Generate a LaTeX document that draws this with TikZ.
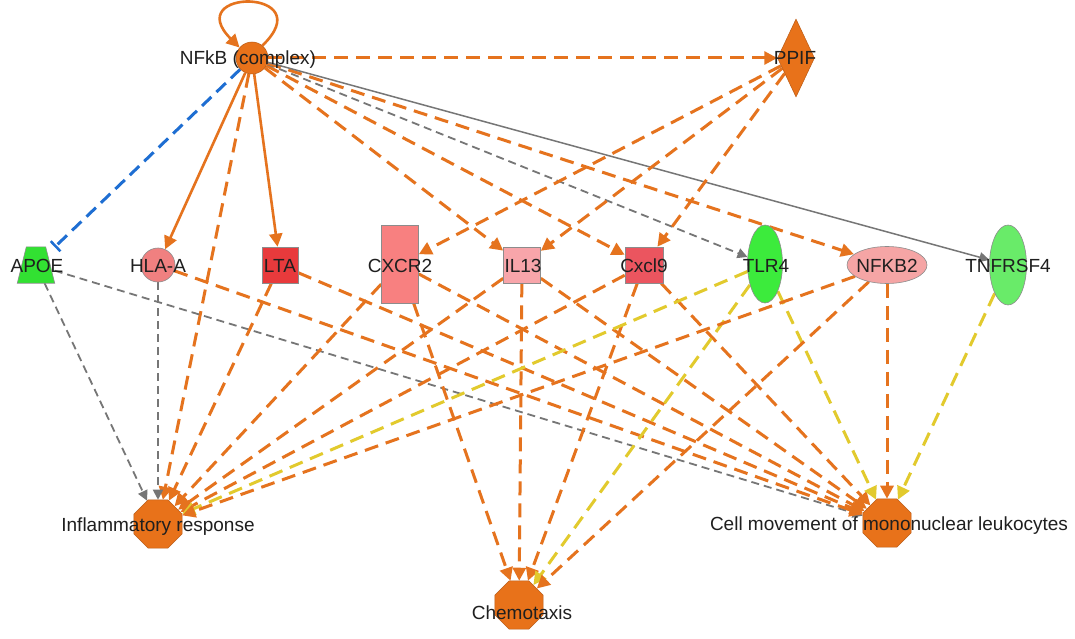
\documentclass[tikz,border=0pt]{standalone}
\usepackage{fontspec}
\setmainfont{Liberation Sans}
\usetikzlibrary{arrows.meta,shapes.geometric}
\pgfdeclarelayer{bg}
\pgfsetlayers{bg,main}
\definecolor{eor}{RGB}{229,115,30}
\definecolor{egray}{RGB}{118,118,118}
\definecolor{eyel}{RGB}{226,202,45}
\definecolor{eblue}{RGB}{30,110,210}
\definecolor{nor}{RGB}{232,114,26}
\definecolor{cApoe}{RGB}{50,225,50}
\definecolor{cHla}{RGB}{240,128,128}
\definecolor{cLta}{RGB}{232,58,60}
\definecolor{cCxcr}{RGB}{248,128,128}
\definecolor{cIl}{RGB}{248,165,170}
\definecolor{cCx}{RGB}{235,85,95}
\definecolor{cTlr}{RGB}{60,235,60}
\definecolor{cNfkb}{RGB}{245,165,165}
\definecolor{cTnf}{RGB}{105,235,105}
\tikzset{
  mol/.style={draw=black!45, line width=0.6pt, inner sep=0pt},
  fn/.style={regular polygon, regular polygon sides=8, minimum size=52pt, fill=nor, draw=nor!80!black, line width=0.5pt, inner sep=0pt},
  lbl/.style={inner sep=0pt, text height=13.8pt, text depth=0pt, font=\fontsize{19}{21}\selectfont, text=black!88},
  ohead/.style={-{Triangle[length=13pt,width=13pt]}},
  ghead/.style={-{Triangle[length=10pt,width=10pt]}},
  od/.style={eor, line width=3pt, dash pattern=on 14pt off 8pt, ohead},
  os/.style={eor, line width=2.6pt, ohead},
  gd/.style={egray, line width=1.8pt, dash pattern=on 8pt off 5pt, ghead},
  gs/.style={egray, line width=1.5pt, ghead},
  yd/.style={eyel, line width=3pt, dash pattern=on 14pt off 8pt, -{Triangle[length=13pt,width=13pt]}},
  bd/.style={eblue, line width=3pt, dash pattern=on 13pt off 7pt, -{Bar[width=14pt,line width=2.5pt]}}
}
\begin{document}
\begin{tikzpicture}[x=1pt,y=-1pt]
\useasboundingbox (0,0) rectangle (1075,639);
% nodes (shapes)
\node[circle, minimum size=32pt, fill=nor, draw=nor!80!black, line width=0.5pt, inner sep=0pt] (nfkb) at (252,58) {};
\node[diamond, minimum width=37pt, minimum height=78pt, fill=nor, draw=nor!80!black, line width=0.5pt, inner sep=0pt] (ppif) at (796,58) {};
\node[inner sep=0pt, minimum width=37pt, minimum height=36pt] (apoe) at (36,265) {};
\fill[cApoe, draw=black!45, line width=0.6pt] (apoe.south west) -- (apoe.south east) -- ([xshift=-9pt]apoe.north east) -- ([xshift=9pt]apoe.north west) -- cycle;
\node[mol, circle, minimum size=34pt, fill=cHla] (hla) at (158,265) {};
\node[mol, rectangle, minimum width=36pt, minimum height=36pt, fill=cLta] (lta) at (280,265) {};
\node[mol, rectangle, minimum width=37pt, minimum height=78pt, fill=cCxcr] (cxcr2) at (400,264) {};
\node[mol, rectangle, minimum width=37pt, minimum height=36pt, fill=cIl] (il13) at (522,265) {};
\node[mol, rectangle, minimum width=38pt, minimum height=36pt, fill=cCx] (cxcl9) at (644,265) {};
\node[mol, ellipse, minimum width=35pt, minimum height=78pt, fill=cTlr] (tlr4) at (765,264) {};
\node[mol, ellipse, minimum width=80pt, minimum height=37pt, fill=cNfkb] (nfkb2) at (887,265) {};
\node[mol, ellipse, minimum width=37pt, minimum height=80pt, fill=cTnf] (tnf) at (1008,265) {};
\node[fn] (infl) at (158,524) {};
\node[fn] (chemo) at (519,605) {};
\node[fn] (cell) at (887,523) {};
% edges
\begin{pgfonlayer}{bg}
\fill[white] (0,0) rectangle (1075,639);
\draw[os] (nfkb.50) .. controls (322,-12) and (180,-12) .. (nfkb.140);
\draw[od] (nfkb) -- (ppif);
\draw[bd] (nfkb) -- (apoe);
\draw[os] (nfkb) -- (hla);
\draw[os] (nfkb) -- (lta);
\draw[od] (nfkb) -- (il13);
\draw[od] (nfkb) -- (cxcl9);
\draw[gd] (nfkb) -- (tlr4);
\draw[od] (nfkb) -- (nfkb2);
\draw[gs] (nfkb) -- (tnf);
\draw[od] (nfkb) -- (infl);
\draw[od] (ppif) -- (cxcr2);
\draw[od] (ppif) -- (il13);
\draw[od] (ppif) -- (cxcl9);
\draw[gd] (apoe) -- (infl);
\draw[gd] (apoe) -- (cell);
\draw[gd] (hla) -- (infl);
\draw[od] (hla) -- (cell);
\draw[od] (lta) -- (infl);
\draw[od] (lta) -- (cell);
\draw[od] (cxcr2) -- (infl);
\draw[od] (cxcr2) -- (chemo);
\draw[od] (cxcr2) -- (cell);
\draw[od] (il13) -- (infl);
\draw[od] (il13) -- (chemo);
\draw[od] (il13) -- (cell);
\draw[od] (cxcl9) -- (infl);
\draw[od] (cxcl9) -- (chemo);
\draw[od] (cxcl9) -- (cell);
\draw[yd] (tlr4) -- (infl);
\draw[yd] (tlr4) -- (chemo);
\draw[yd] (tlr4) -- (cell);
\draw[od] (nfkb2) -- (infl);
\draw[od] (nfkb2) -- (chemo);
\draw[od] (nfkb2) -- (cell);
\draw[yd] (tnf) -- (cell);
\end{pgfonlayer}
% labels
\node[lbl] (lnfkb) at (248,58) {NFkB (complex)};
\node[lbl] (lppif) at (795,58) {PPIF};
\node[lbl] (lapoe) at (37,266) {APOE};
\node[lbl] (lhla) at (158,266) {HLA-A};
\node[lbl] (llta) at (280,266) {LTA};
\node[lbl] (lcxcr2) at (400,266) {CXCR2};
\node[lbl] (lil13) at (523,266) {IL13};
\node[lbl] (lcxcl9) at (644,266) {Cxcl9};
\node[lbl] (ltlr4) at (766,266) {TLR4};
\node[lbl] (lnfkb2) at (887,266) {NFKB2};
\node[lbl] (ltnf) at (1008,266) {TNFRSF4};
\node[lbl] (linfl) at (158,525) {Inflammatory response};
\node[lbl] (lchemo) at (522,613) {Chemotaxis};
\node[lbl] (lcell) at (889,524) {Cell movement of mononuclear leukocytes};
\end{tikzpicture}
\end{document}
